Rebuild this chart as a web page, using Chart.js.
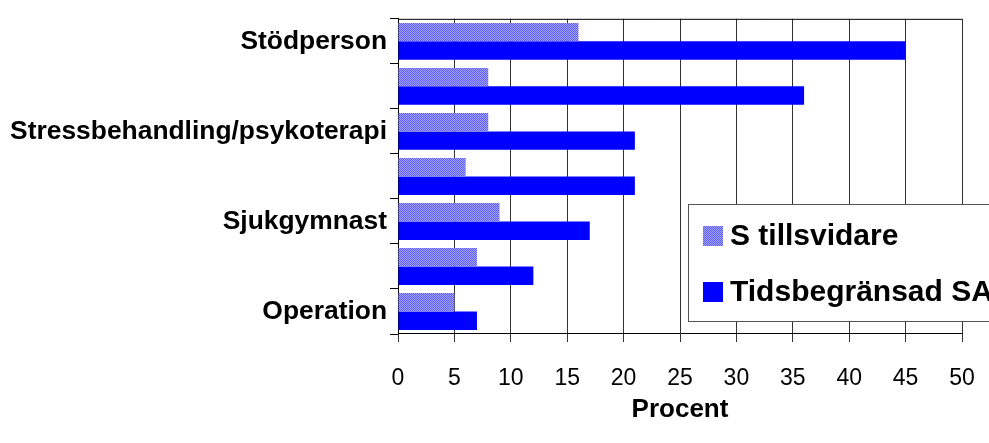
<!DOCTYPE html>
<html>
<head>
<meta charset="utf-8">
<script src="https://cdn.jsdelivr.net/npm/chart.js@4/dist/chart.umd.min.js"></script>
<style>
  html, body { margin: 0; padding: 0; background: #fff; }
  canvas { display: block; }
</style>
</head>
<body>
<canvas id="chart" width="989" height="443"></canvas>
<script>
// categories, top to bottom (every other one has no label in the original)
const categories = ['Stödperson', '', 'Stressbehandling/psykoterapi', '', 'Sjukgymnast', '', 'Operation'];
const seriesNames = ['S tillsvidare', 'Tidsbegränsad SA'];
const tillsvidare = [16, 8, 8, 6, 9, 7, 5];
const tidsbegransad = [45, 36, 21, 21, 17, 12, 7];
const xTicks = [0, 5, 10, 15, 20, 25, 30, 35, 40, 45, 50];

const canvas = document.getElementById('chart');
const ctx = canvas.getContext('2d');

// fine hatched fill for the first series
function hatchPattern() {
  const c = document.createElement('canvas');
  c.width = 4; c.height = 4;
  const g = c.getContext('2d');
  g.fillStyle = '#a6a6ff';
  g.fillRect(0, 0, 4, 4);
  g.fillStyle = '#5a5aff';
  for (let i = 0; i < 4; i++) {
    g.fillRect(i, i % 4, 1, 1);
    g.fillRect(i, (i + 2) % 4, 1, 1);
  }
  return ctx.createPattern(c, 'repeat');
}
const hatch = hatchPattern();

const frame = {
  id: 'frame',
  afterDatasetsDraw(chart) {
    const a = chart.chartArea;
    const c = chart.ctx;
    c.save();
    c.strokeStyle = '#000';
    c.lineWidth = 1;
    c.beginPath();
    c.moveTo(a.left, a.top + 0.5);
    c.lineTo(a.right, a.top + 0.5);
    c.stroke();
    c.restore();
  }
};

const boxLegend = {
  id: 'boxLegend',
  afterDraw(chart) {
    const c = chart.ctx;
    c.save();
    c.fillStyle = '#fff';
    c.fillRect(688, 204, 320, 118);
    c.strokeStyle = '#555';
    c.lineWidth = 1;
    c.strokeRect(688.5, 204.5, 320, 117);
    const fills = [hatch, '#0000ff'];
    const ys = [236, 292];
    c.font = 'bold 30px "Liberation Sans", Arial, sans-serif';
    c.textBaseline = 'middle';
    c.textAlign = 'left';
    seriesNames.forEach((name, i) => {
      c.fillStyle = fills[i];
      c.fillRect(703, ys[i] - 10, 20, 20);
      c.fillStyle = '#000';
      c.fillText(name, 730, ys[i] + 1);
    });
    c.restore();
  }
};

new Chart(ctx, {
  type: 'bar',
  data: {
    labels: categories,
    datasets: [
      { label: seriesNames[0], data: tillsvidare, backgroundColor: hatch },
      { label: seriesNames[1], data: tidsbegransad, backgroundColor: '#0000ff' }
    ]
  },
  options: {
    indexAxis: 'y',
    responsive: false,
    animation: false,
    layout: { padding: { top: 15, right: 27, left: 0, bottom: 0 } },
    datasets: { bar: { categoryPercentage: 0.82, barPercentage: 1.0 } },
    plugins: { legend: { display: false }, tooltip: { enabled: false } },
    scales: {
      x: {
        min: 0,
        max: 50,
        afterBuildTicks: s => { s.ticks = xTicks.map(v => ({ value: v })); },
        afterFit: s => { s.height = 109; s.paddingLeft = 0; s.paddingRight = 0; },
        ticks: {
          color: '#000',
          padding: 23,
          font: { family: '"Liberation Sans", Arial, sans-serif', size: 23 }
        },
        grid: { color: '#333', lineWidth: 1, tickLength: 8 },
        border: { color: '#000', width: 1 },
        title: {
          display: true,
          text: 'Procent',
          color: '#000',
          padding: { top: 0, bottom: 18 },
          font: { family: '"Liberation Sans", Arial, sans-serif', size: 26, weight: 'bold' }
        }
      },
      y: {
        afterFit: s => { s.width = 398; },
        ticks: {
          color: '#000',
          padding: 3,
          autoSkip: false,
          font: { family: '"Liberation Sans", Arial, sans-serif', size: 26.4, weight: 'bold' }
        },
        grid: { drawOnChartArea: false, color: '#000', tickLength: 8 },
        border: { color: '#000', width: 1 }
      }
    }
  },
  plugins: [frame, boxLegend]
});
</script>
</body>
</html>
